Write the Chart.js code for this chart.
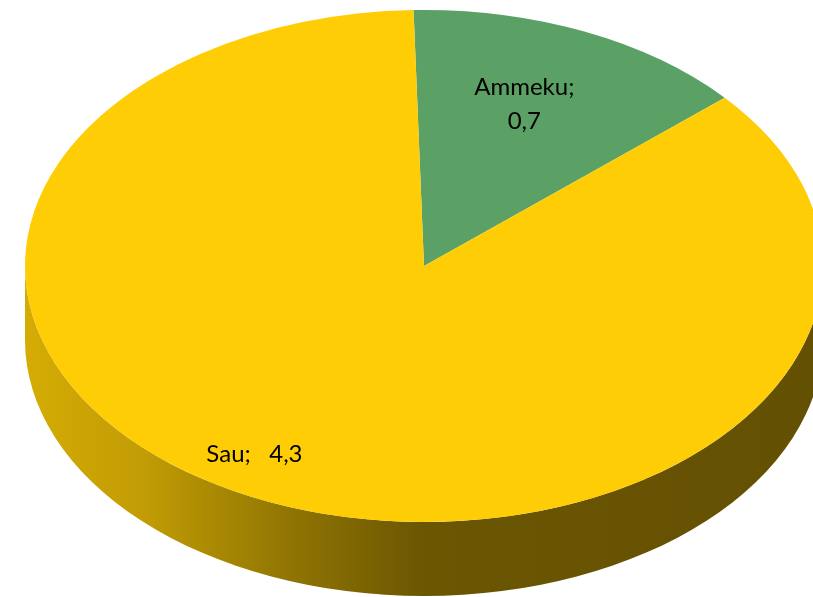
<!DOCTYPE html>
<html>
<head>
<meta charset="utf-8">
<script src="https://cdn.jsdelivr.net/npm/chart.js@4.4.1/dist/chart.umd.min.js"></script>
<style>
  html, body { margin: 0; padding: 0; background: #fff; }
</style>
</head>
<body>
<canvas id="myChart" width="813" height="597"></canvas>
<script>
const labels = ['Ammeku', 'Sau'];
const values = [0.7, 4.3];
const colors = ['#5ba165', '#fecd05'];

// where the tilted pie sits on the page
const CX = 424, CY = 266, RX = 399, RY = 256, DEPTH = 74;
const ROTATION = -1.5;
// label placement: fraction of radius + angle nudge (deg)
const labelSpots = [{ r: 0.68, da: -2 }, { r: 0.85, da: 6.3 }];

function shade(hex, f) {
  const n = parseInt(hex.slice(1), 16);
  const r = Math.round(((n >> 16) & 255) * f);
  const g = Math.round(((n >> 8) & 255) * f);
  const b = Math.round((n & 255) * f);
  return `rgb(${r},${g},${b})`;
}

function fmt(v) {
  return String(v).replace('.', ',');
}

const pie3d = {
  id: 'pie3d',
  beforeDatasetsDraw(chart) {
    const ctx = chart.ctx;
    const meta = chart.getDatasetMeta(0);

    // side wall, only the front half shows
    meta.data.forEach((arc, i) => {
      [0, 2 * Math.PI, -2 * Math.PI].forEach(k => {
        const s = Math.max(arc.startAngle - k, 0);
        const e = Math.min(arc.endAngle - k, Math.PI);
        if (e <= s) return;
        const grad = ctx.createLinearGradient(CX - RX, 0, CX + RX, 0);
        grad.addColorStop(0, shade(colors[i], 0.84));
        grad.addColorStop(0.15, shade(colors[i], 0.76));
        grad.addColorStop(0.34, shade(colors[i], 0.56));
        grad.addColorStop(0.5, shade(colors[i], 0.42));
        grad.addColorStop(1, shade(colors[i], 0.39));
        ctx.save();
        ctx.beginPath();
        ctx.ellipse(CX, CY, RX, RY, 0, s, e);
        ctx.ellipse(CX, CY + DEPTH, RX, RY, 0, e, s, true);
        ctx.closePath();
        ctx.fillStyle = grad;
        ctx.fill();
        ctx.restore();
      });
    });

    // squash the round pie into the top face
    const a = meta.data[0];
    const r = a.outerRadius;
    ctx.save();
    ctx.translate(CX, CY);
    ctx.scale(RX / r, RY / r);
    ctx.translate(-a.x, -a.y);
  },
  afterDatasetsDraw(chart) {
    chart.ctx.restore();
  },
  afterDraw(chart) {
    const ctx = chart.ctx;
    const meta = chart.getDatasetMeta(0);
    ctx.save();
    ctx.fillStyle = '#000';
    ctx.font = '24px Lato';
    ctx.textAlign = 'center';
    ctx.textBaseline = 'middle';
    meta.data.forEach((arc, i) => {
      const spot = labelSpots[i];
      const mid = (arc.startAngle + arc.endAngle) / 2 + spot.da * Math.PI / 180;
      const x = CX + RX * spot.r * Math.cos(mid);
      const y = CY + RY * spot.r * Math.sin(mid);
      if (i === 0) {
        ctx.fillText(labels[i] + ';', x, y - 17);
        ctx.fillText(fmt(values[i]), x, y + 17);
      } else {
        ctx.fillText(labels[i] + ';   ' + fmt(values[i]), x, y);
      }
    });
    ctx.restore();
  }
};

const ctx = document.getElementById('myChart').getContext('2d');
new Chart(ctx, {
  type: 'pie',
  data: {
    labels: labels,
    datasets: [{
      data: values,
      backgroundColor: colors,
      borderWidth: 0,
      clip: false
    }]
  },
  options: {
    responsive: false,
    animation: false,
    rotation: ROTATION,
    layout: { padding: 0 },
    plugins: {
      legend: { display: false },
      tooltip: { enabled: false }
    }
  },
  plugins: [pie3d]
});
</script>
</body>
</html>
